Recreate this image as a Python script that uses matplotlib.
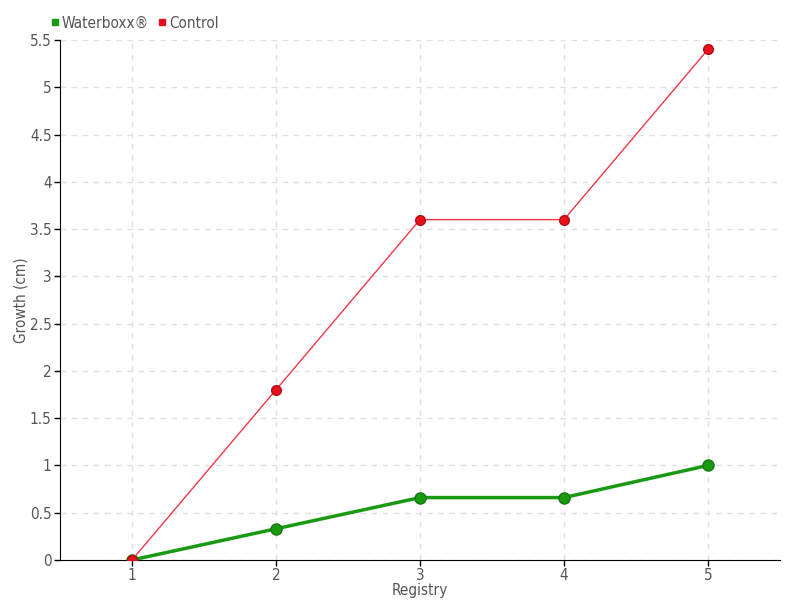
import matplotlib
matplotlib.use("Agg")
import matplotlib.pyplot as plt

registry = [1, 2, 3, 4, 5]
waterboxx = [0, 0.33, 0.66, 0.66, 1.0]
control = [0, 1.8, 3.6, 3.6, 5.4]
yticks = [0, 0.5, 1, 1.5, 2, 2.5, 3, 3.5, 4, 4.5, 5, 5.5]
ytick_labels = ["0", "0.5", "1", "1.5", "2", "2.5", "3", "3.5", "4", "4.5", "5", "5.5"]

plt.rcParams['font.family'] = ['DejaVu Sans']
plt.rcParams['font.stretch'] = 'condensed'

fig = plt.figure(figsize=(8, 6), dpi=100)
ax = fig.add_axes([0.075, 0.0667, 0.9, 0.8667])
tc = "#555555"

ax.plot(registry, waterboxx, color="#1a9a12", lw=2.5, marker="o", ms=8,
        markerfacecolor="#1a9a12", markeredgecolor="#147a0e", zorder=3, label="Waterboxx®")
ax.plot(registry, control, color="#f23848", lw=1, marker="o", ms=7,
        markerfacecolor="#e8101c", markeredgecolor="#b01018", zorder=4, label="Control")

ax.set_xlim(0.5, 5.5)
ax.set_ylim(0, 5.5)
ax.set_xticks(registry)
ax.set_xticklabels([str(r) for r in registry])
ax.set_yticks(yticks)
ax.set_yticklabels(ytick_labels)
ax.grid(True, color="#e0e0e0", linestyle=(0, (4, 4)), lw=1)
ax.set_axisbelow(True)
for s in ["top", "right"]:
    ax.spines[s].set_visible(False)
ax.tick_params(colors="black", labelcolor=tc, labelsize=11, length=4, width=1, pad=2)
ax.set_xlabel("Registry", color=tc, fontsize=11, labelpad=0)
ax.set_ylabel("Growth (cm)", color=tc, fontsize=11, labelpad=1)

leg = fig.legend(handles=ax.get_lines(), loc="upper left", bbox_to_anchor=(0.047, 0.997),
                 ncol=2, frameon=False, fontsize=11, handlelength=0.5, handletextpad=0.2,
                 columnspacing=0.6, labelcolor=tc)
for h, c in zip(leg.legend_handles, ["#1a9a12", "#e8101c"]):
    h.set_linestyle("None")
    h.set_marker("s")
    h.set_markersize(5)
    h.set_markerfacecolor(c)
    h.set_markeredgecolor(c)

fig.savefig("out.png", dpi=100)
